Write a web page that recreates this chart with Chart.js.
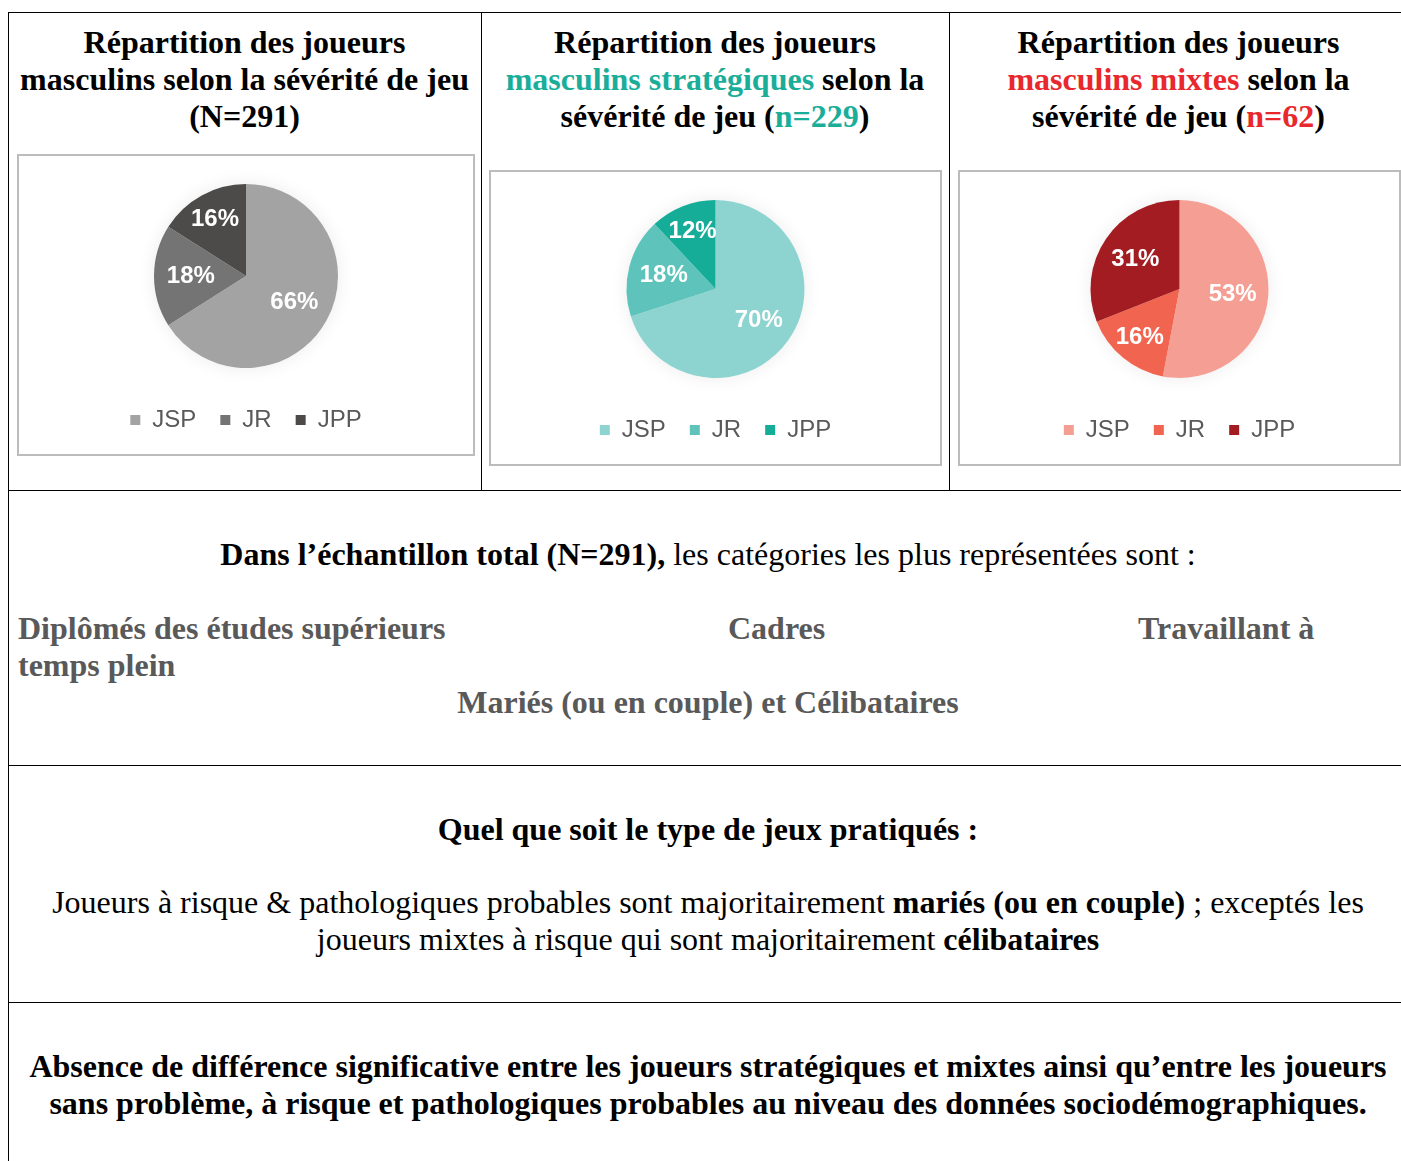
<!DOCTYPE html>
<html lang="fr">
<head>
<meta charset="utf-8">
<script src="https://cdn.jsdelivr.net/npm/chart.js@4.4.1/dist/chart.umd.min.js"></script>
<style>
  body { margin: 0; background: #fff; }
  #page { position: relative; width: 1401px; height: 1161px; overflow: hidden; font-family: "Liberation Serif", "Times New Roman", serif; color: #000; }
  .line { position: absolute; background: #000; }
  .txt { position: absolute; font-size: 32px; line-height: 37px; white-space: nowrap; }
  .center { text-align: center; }
  .b { font-weight: bold; }
  .gray { color: #595959; font-weight: bold; }
  .teal { color: #1aae9a; }
  .red { color: #e8282d; }
  .box { position: absolute; border: 2px solid #bcbcbc; box-sizing: border-box; }
  .box div { position: relative; width: 100%; height: 100%; }
</style>
</head>
<body>
<div id="page">
  <!-- table grid -->
  <div class="line" style="left:8px;top:12px;width:1400px;height:1px"></div>
  <div class="line" style="left:8px;top:12px;width:1px;height:1149px"></div>
  <div class="line" style="left:481px;top:12px;width:1px;height:478px"></div>
  <div class="line" style="left:949px;top:12px;width:1px;height:478px"></div>
  <div class="line" style="left:8px;top:490px;width:1400px;height:1px"></div>
  <div class="line" style="left:8px;top:765px;width:1400px;height:1px"></div>
  <div class="line" style="left:8px;top:1002px;width:1400px;height:1px"></div>

  <!-- titles -->
  <div class="txt center b" style="left:8px;top:24px;width:473px">Répartition des joueurs<br>masculins selon la sévérité de jeu<br>(N=291)</div>
  <div class="txt center b" style="left:481px;top:24px;width:468px">Répartition des joueurs<br><span class="teal">masculins stratégiques</span> selon la<br>sévérité de jeu (<span class="teal">n=229</span>)</div>
  <div class="txt center b" style="left:949px;top:24px;width:459px">Répartition des joueurs<br><span class="red">masculins mixtes</span> selon la<br>sévérité de jeu (<span class="red">n=62</span>)</div>

  <!-- chart boxes -->
  <div class="box" style="left:17px;top:154px;width:458px;height:302px"><div><canvas id="chartAll"></canvas></div></div>
  <div class="box" style="left:489px;top:170px;width:453px;height:296px"><div><canvas id="chartStrat"></canvas></div></div>
  <div class="box" style="left:958px;top:170px;width:443px;height:296px"><div><canvas id="chartMixed"></canvas></div></div>

  <!-- row 2 -->
  <div class="txt center" style="left:8px;top:536px;width:1400px"><span class="b">Dans l’échantillon total (N=291),</span> les catégories les plus représentées sont :</div>
  <div class="txt gray" style="left:18px;top:610px">Diplômés des études supérieurs</div>
  <div class="txt gray" style="left:728px;top:610px">Cadres</div>
  <div class="txt gray" style="left:1138px;top:610px">Travaillant à</div>
  <div class="txt gray" style="left:18px;top:647px">temps plein</div>
  <div class="txt gray center" style="left:8px;top:684px;width:1400px">Mariés (ou en couple) et Célibataires</div>

  <!-- row 3 -->
  <div class="txt center b" style="left:8px;top:811px;width:1400px">Quel que soit le type de jeux pratiqués :</div>
  <div class="txt center" style="left:8px;top:884px;width:1400px">Joueurs à risque &amp; pathologiques probables sont majoritairement <span class="b">mariés (ou en couple)</span> ; exceptés les<br>joueurs mixtes à risque qui sont majoritairement <span class="b">célibataires</span></div>

  <!-- row 4 -->
  <div class="txt center b" style="left:8px;top:1048px;width:1400px">Absence de différence significative entre les joueurs stratégiques et mixtes ainsi qu’entre les joueurs<br>sans problème, à risque et pathologiques probables au niveau des données sociodémographiques.</div>
</div>

<script>
const categories = ["JSP", "JR", "JPP"];
const allPlayers = [66, 18, 16];
const strategicPlayers = [70, 18, 12];
const mixedPlayers = [53, 16, 31];

const grayColors = ["#a3a3a3", "#747474", "#4d4b49"];
const tealColors = ["#8dd3cf", "#5ec4bb", "#15ac98"];
const redColors = ["#f59e94", "#f1644f", "#a21c22"];

// soft halo behind the pie + white percentage labels
const pieDecor = {
  id: "pieDecor",
  beforeDatasetsDraw(chart) {
    const arc = chart.getDatasetMeta(0).data[0];
    const ctx = chart.ctx;
    ctx.save();
    ctx.shadowColor = "rgba(0,0,0,0.08)";
    ctx.shadowBlur = 18;
    ctx.fillStyle = "#fff";
    ctx.beginPath();
    ctx.arc(arc.x, arc.y, arc.outerRadius, 0, Math.PI * 2);
    ctx.fill();
    ctx.restore();
  },
  afterDatasetsDraw(chart) {
    const ctx = chart.ctx;
    const values = chart.data.datasets[0].data;
    ctx.save();
    ctx.fillStyle = "#fff";
    ctx.font = "bold 24px 'Liberation Sans', Arial, sans-serif";
    ctx.textAlign = "center";
    ctx.textBaseline = "middle";
    chart.getDatasetMeta(0).data.forEach((arc, i) => {
      const mid = (arc.startAngle + arc.endAngle) / 2;
      const f = values[i] < 17 ? 0.7 : 0.6;
      const x = arc.x + Math.cos(mid) * arc.outerRadius * f;
      const y = arc.y + Math.sin(mid) * arc.outerRadius * f;
      ctx.fillText(values[i] + "%", x, y);
    });
    ctx.restore();
  }
};

function makePie(id, values, colors, radius) {
  const ctx = document.getElementById(id).getContext("2d");
  return new Chart(ctx, {
    type: "pie",
    data: {
      labels: categories,
      datasets: [{
        data: values,
        backgroundColor: colors,
        borderWidth: 0,
        radius: radius
      }]
    },
    options: {
      responsive: true,
      maintainAspectRatio: false,
      animation: false,
      events: [],
      layout: { padding: { top: 12, bottom: 12 } },
      plugins: {
        tooltip: { enabled: false },
        legend: {
          position: "bottom",
          labels: {
            boxWidth: 10,
            boxHeight: 10,
            padding: 24,
            color: "#595959",
            font: { family: "'Liberation Sans', Arial, sans-serif", size: 24 }
          }
        }
      }
    },
    plugins: [pieDecor]
  });
}

makePie("chartAll", allPlayers, grayColors, 92);
makePie("chartStrat", strategicPlayers, tealColors, 89);
makePie("chartMixed", mixedPlayers, redColors, 89);
</script>
</body>
</html>
